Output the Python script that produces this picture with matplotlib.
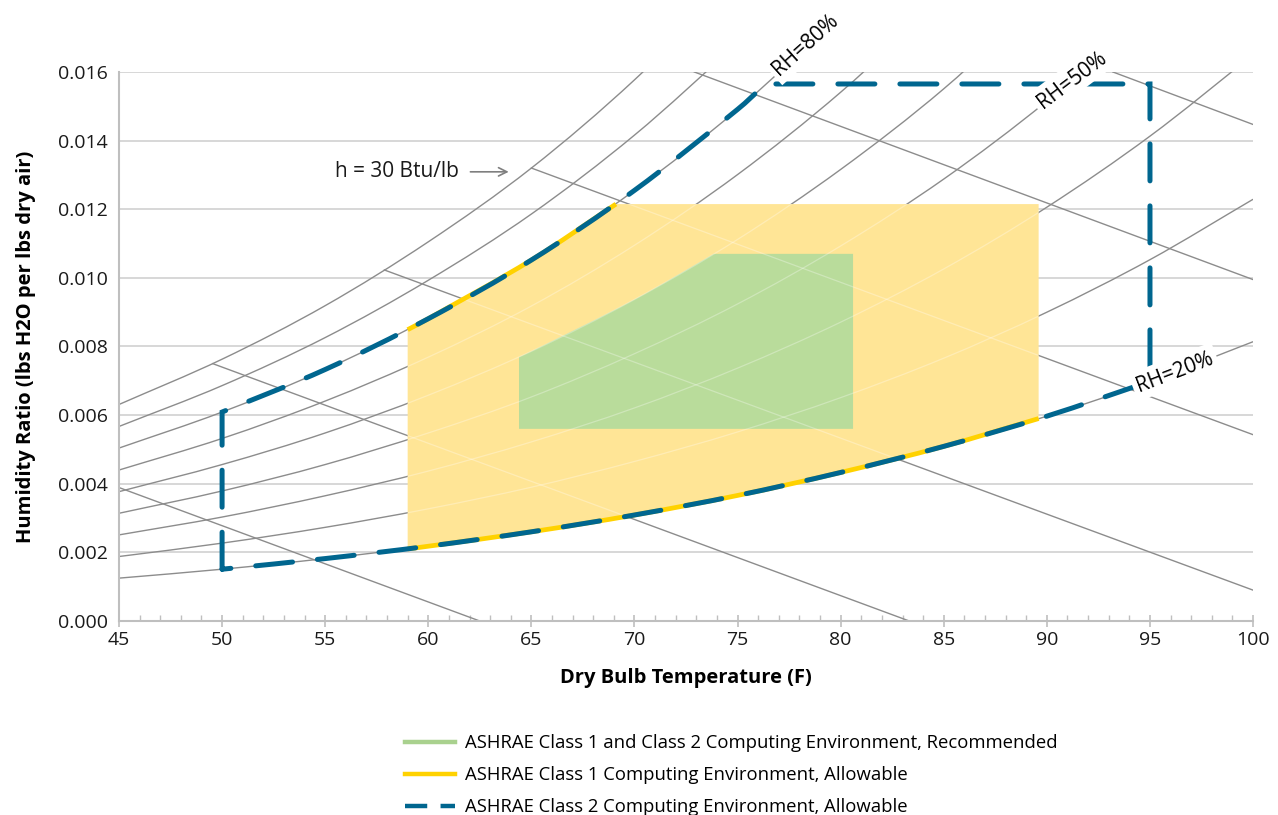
import numpy as np
import matplotlib.pyplot as plt
from matplotlib.lines import Line2D
from matplotlib.path import Path
from matplotlib.patches import PathPatch

plt.rcParams['font.family'] = ['Open Sans', 'DejaVu Sans']

## data

temps = [45, 50, 55, 60, 65, 70, 75, 80, 85, 90, 95, 100]

# humidity ratio (lbs H2O / lbs dry air) along the relative humidity curves
rh100 = [0.00631, 0.00763, 0.00919, 0.01105, 0.01320, 0.01577, 0.01876]
rh90 = [0.00567, 0.00686, 0.00826, 0.00993, 0.01186, 0.01416, 0.01683]
rh80 = [0.00504, 0.00609, 0.00733, 0.00881, 0.01052, 0.01255, 0.01491, 0.01767]
rh70 = [0.00440, 0.00532, 0.00641, 0.00769, 0.00918, 0.01095, 0.01301, 0.01541, 0.01818]
rh60 = [0.00377, 0.00456, 0.00548, 0.00658, 0.00786, 0.00937, 0.01112, 0.01316, 0.01551, 0.01827]
rh50 = [0.00314, 0.00379, 0.00456, 0.00548, 0.00653, 0.00779, 0.00924, 0.01093, 0.01288, 0.01515, 0.01776]
rh40 = [0.00251, 0.00303, 0.00365, 0.00437, 0.00522, 0.00621, 0.00737, 0.00871, 0.01026, 0.01206, 0.01413, 0.01650]
rh30 = [0.00188, 0.00227, 0.00273, 0.00327, 0.00390, 0.00465, 0.00551, 0.00651, 0.00766, 0.00900, 0.01053, 0.01229]
rh20 = [0.00125, 0.00151, 0.00182, 0.00218, 0.00260, 0.00309, 0.00366, 0.00433, 0.00509, 0.00597, 0.00698, 0.00814]
rh_curves = [rh100, rh90, rh80, rh70, rh60, rh50, rh40, rh30, rh20]

# constant enthalpy lines, start and end points
h_values = [15, 20, 25, 30, 35, 40]
h_t0 = [45.0, 49.55, 57.87, 65.0, 72.9, 93.2]
h_w0 = [0.00389, 0.00750, 0.01023, 0.01320, 0.01600, 0.01600]
h_t1 = [62.5, 83.33, 100, 100, 100, 100]
h_w1 = [0.0, 0.0, 0.00090, 0.00543, 0.00995, 0.01447]

# envelope limits
c2_tmin, c2_tmax, c2_wmax, c2_tcorner = 50, 95, 0.01565, 76.36
c1_tmin, c1_tmax, c1_wmax, c1_tcorner = 59, 89.6, 0.01215, 69.1
c1_wlow_left, c1_whigh_left, c1_wlow_right = 0.00210, 0.00849, 0.00590
rec_tmin, rec_tmax, rec_wmin, rec_wmax, rec_tcorner = 64.4, 80.6, 0.0056, 0.0107, 73.85
rec_wleft = 0.00769

BLUE = '#00668f'
YELLOW = '#ffd200'
YFILL = '#ffe596'
GFILL = '#b9dc9b'
GREEN = '#a9d18e'
GRAY = '#8c8c8c'


def along(curve, t0, t1):
    # points of a curve strictly between two temperatures
    return [(t, w) for t, w in zip(temps, curve) if t0 < t < t1]


def smooth(pts):
    # smoothed line through the points (cubic Hermite, x as parameter)
    p = np.asarray(pts, float)
    n = len(p)
    m = np.zeros(n)
    for i in range(n):
        a, b = max(i - 1, 0), min(i + 1, n - 1)
        m[i] = (p[b, 1] - p[a, 1]) / (p[b, 0] - p[a, 0])
    verts = [p[0]]
    codes = [Path.MOVETO]
    for i in range(n - 1):
        h = p[i + 1, 0] - p[i, 0]
        verts += [(p[i, 0] + h / 3, p[i, 1] + m[i] * h / 3),
                  (p[i + 1, 0] - h / 3, p[i + 1, 1] - m[i + 1] * h / 3),
                  p[i + 1]]
        codes += [Path.CURVE4] * 3
    return verts, codes


def outline(pieces):
    verts, codes = [], []
    for kind, pts in pieces:
        if kind == 'curve':
            v, c = smooth(pts)
        else:
            v = [np.asarray(q, float) for q in pts]
            c = [Path.LINETO] * len(v)
        if verts:
            v, c = v[1:], c[1:]
        else:
            c = [Path.MOVETO] + list(c[1:])
        verts += v
        codes += c
    return Path(verts, codes)


fig = plt.figure(figsize=(12.78, 8.15), dpi=100)
ax = fig.add_axes([0.0931, 0.238, 0.8874, 0.6737])

# gray chart lines
rh_paths = [outline([('curve', list(zip(temps, curve)))]) for curve in rh_curves]
for pth in rh_paths:
    ax.add_patch(PathPatch(pth, fill=False, edgecolor=GRAY, lw=1.0, zorder=1))
for i in range(len(h_values)):
    ax.plot([h_t0[i], h_t1[i]], [h_w0[i], h_w1[i]], color=GRAY, lw=1.0, zorder=1)

# class 1 allowable (yellow)
c1_top = [(c1_tmin, c1_whigh_left)] + along(rh80, c1_tmin, c1_tcorner) + [(c1_tcorner, c1_wmax)]
c1_bot = [(c1_tmax, c1_wlow_right)] + along(rh20, c1_tmin, c1_tmax)[::-1] + [(c1_tmin, c1_wlow_left)]
c1_path = outline([('line', [(c1_tmin, c1_wlow_left), (c1_tmin, c1_whigh_left)]),
                   ('curve', c1_top),
                   ('line', [(c1_tcorner, c1_wmax), (c1_tmax, c1_wmax), (c1_tmax, c1_wlow_right)]),
                   ('curve', c1_bot)])
yel = PathPatch(c1_path, facecolor=YFILL, edgecolor='none', zorder=2)
ax.add_patch(yel)

# recommended (green)
rec_top = [(rec_tmin, rec_wleft)] + along(rh60, rec_tmin, rec_tcorner) + [(rec_tcorner, rec_wmax)]
rec_path = outline([('line', [(rec_tmin, rec_wmin), (rec_tmin, rec_wleft)]),
                    ('curve', rec_top),
                    ('line', [(rec_tcorner, rec_wmax), (rec_tmax, rec_wmax),
                              (rec_tmax, rec_wmin), (rec_tmin, rec_wmin)])])
ax.add_patch(PathPatch(rec_path, facecolor=GFILL, edgecolor='none', zorder=2.1))

# faint chart lines showing through the shaded areas
for pth in rh_paths:
    ghost = PathPatch(pth, fill=False, edgecolor='white', alpha=0.3, lw=0.9, zorder=2.5)
    ax.add_patch(ghost)
    ghost.set_clip_path(yel)
for i in range(len(h_values)):
    g, = ax.plot([h_t0[i], h_t1[i]], [h_w0[i], h_w1[i]], color='white', alpha=0.3, lw=0.9, zorder=2.5)
    g.set_clip_path(yel)

ax.add_patch(PathPatch(outline([('curve', c1_top)]), fill=False, edgecolor=YELLOW,
                       lw=3.4, capstyle='butt', zorder=3))
ax.add_patch(PathPatch(outline([('curve', c1_bot)]), fill=False, edgecolor=YELLOW,
                       lw=3.4, capstyle='butt', zorder=3))

# class 2 allowable (blue dashed)
i50 = temps.index(c2_tmin)
i95 = temps.index(c2_tmax)
c2_top = [(c2_tmin, rh80[i50])] + along(rh80, c2_tmin, c2_tcorner) + [(c2_tcorner, c2_wmax)]
c2_bot = [(c2_tmax, rh20[i95])] + along(rh20, c2_tmin, c2_tmax)[::-1] + [(c2_tmin, rh20[i50])]
c2_path = outline([('line', [(c2_tmin, rh20[i50]), (c2_tmin, rh80[i50])]),
                   ('curve', c2_top),
                   ('line', [(c2_tcorner, c2_wmax), (c2_tmax, c2_wmax), (c2_tmax, rh20[i95])]),
                   ('curve', c2_bot)])
ax.add_patch(PathPatch(c2_path, fill=False, edgecolor=BLUE, lw=3.6,
                       linestyle=(0, (7.4, 5.0)), capstyle='round', joinstyle='miter', zorder=4))

# labels
box = dict(facecolor='white', edgecolor='none', pad=3)
ax.text(78.3, 0.01680, 'RH=80%', rotation=42, ha='center', va='center',
        fontsize=15, bbox=box, clip_on=False, zorder=6)
ax.text(91.2, 0.01577, 'RH=50%', rotation=37, ha='center', va='center',
        fontsize=15, bbox=box, clip_on=False, zorder=6)
ax.text(96.2, 0.00726, 'RH=20%', rotation=21, ha='center', va='center',
        fontsize=15, bbox=box, clip_on=False, zorder=6)
ax.annotate('h = 30 Btu/lb', xy=(63.9, 0.01309), xytext=(58.5, 0.01309),
            ha='center', va='center', fontsize=15, color='#1a1a1a',
            arrowprops=dict(arrowstyle='->', color='#7f7f7f', lw=1.2,
                            shrinkA=6, shrinkB=0))

# axes styling
ax.set_xlim(45, 100)
ax.set_ylim(0, 0.016)
ax.set_xticks(np.arange(45, 101, 5))
ax.set_xticks(np.arange(45, 101, 1), minor=True)
ax.set_yticks(np.arange(0, 0.0161, 0.002))
ax.set_yticklabels(['%.3f' % v for v in np.arange(0, 0.0161, 0.002)])
ax.yaxis.grid(True, color='#d4d4d4', lw=1.3, zorder=0)
ax.set_axisbelow(True)
for s in ['top', 'right']:
    ax.spines[s].set_visible(False)
for s in ['left', 'bottom']:
    ax.spines[s].set_color('#bfbfbf')
    ax.spines[s].set_linewidth(1.5)
ax.tick_params(axis='y', length=0, labelsize=14, pad=8, labelcolor='#1a1a1a')
ax.tick_params(axis='x', which='major', direction='inout', length=8, width=1.2,
               color='#bfbfbf', labelsize=14, labelcolor='#1a1a1a', pad=3)
ax.tick_params(axis='x', which='minor', direction='in', length=4, width=1.0, color='#bfbfbf')

ax.set_xlabel('Dry Bulb Temperature (F)', fontsize=14.5, fontweight='bold', labelpad=14)
ax.set_ylabel('Humidity Ratio (lbs H2O per lbs dry air)', fontsize=14.5, fontweight='bold', labelpad=16)

handles = [Line2D([], [], color=GREEN, lw=3.2),
           Line2D([], [], color=YELLOW, lw=3.2),
           Line2D([], [], color=BLUE, lw=3.2, dashes=(5, 3))]
labels = ['ASHRAE Class 1 and Class 2 Computing Environment, Recommended',
          'ASHRAE Class 1 Computing Environment, Allowable',
          'ASHRAE Class 2 Computing Environment, Allowable']
fig.legend(handles, labels, loc='upper left', bbox_to_anchor=(0.317, 0.099),
           frameon=False, fontsize=13.3, handlelength=2.7, handletextpad=0.54,
           labelspacing=0.76, borderpad=0, borderaxespad=0)

fig.savefig('out.png', dpi=100)
